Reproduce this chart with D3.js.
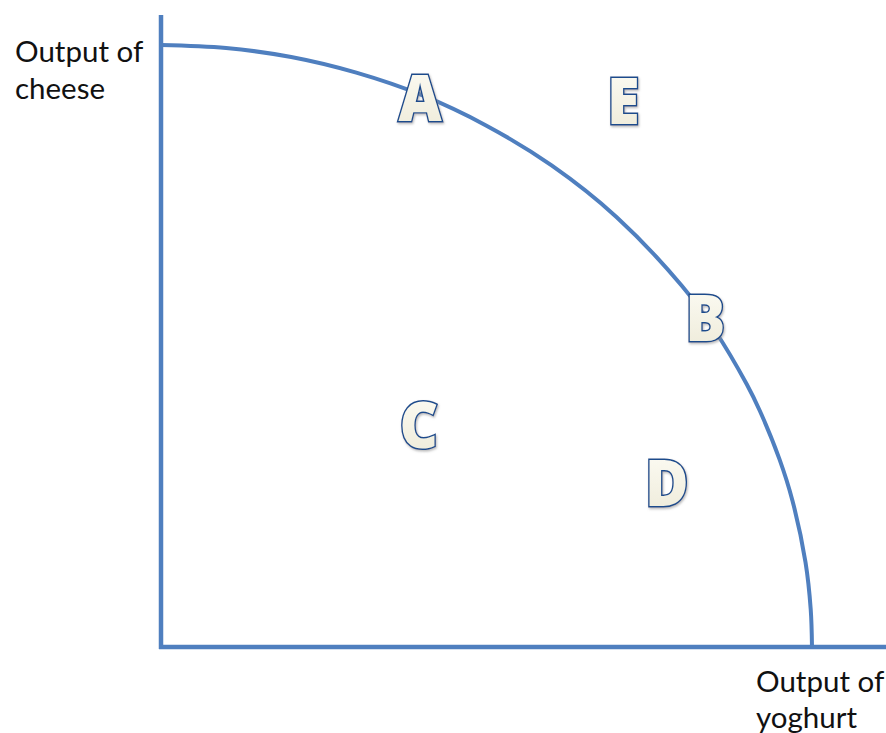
<!DOCTYPE html>
<html>
<head>
<meta charset="utf-8">
<script src="https://cdn.jsdelivr.net/npm/d3@7/dist/d3.min.js"></script>
<style>
  body { margin: 0; background: #fff; }
  svg { display: block; }
  .label { font-family: Lato, "Open Sans", sans-serif; font-size: 29.5px; fill: #111; }
  .point { font-family: "Open Sans", sans-serif; font-weight: 800; font-size: 64px;
           fill: url(#letterFill); stroke: #1f4c8c; stroke-width: 3px; paint-order: stroke; }
</style>
</head>
<body>
<div id="chart"></div>
<script>
// PPF curve (output of yoghurt, output of cheese)
const yoghurt = [0, 10, 20, 30, 40, 50, 60, 70, 80, 85, 90, 92, 95, 97, 99, 99.8, 100];
const cheese  = [100, 99.5, 98, 95.4, 91.7, 86.6, 80, 71.4, 60, 52.7, 43.6, 39.2, 31.2, 24.3, 14.1, 6.3, 0];

// labelled combinations
const pointNames = ["A", "E", "B", "C", "D"];
const pointX = [39.8, 71.0, 83.6, 39.6, 77.7];
const pointY = [91.2, 90.7, 54.7, 36.9, 27.2];

// how far the axis lines run
const xAxisEnd = 111.4;
const yAxisEnd = 105;

const axisTitles = {
  y: ["Output of", "cheese"],
  x: ["Output of", "yoghurt"]
};

const W = 886, H = 733;

const svg = d3.select("#chart").append("svg")
    .attr("width", W)
    .attr("height", H);

const defs = svg.append("defs");
const grad = defs.append("linearGradient")
    .attr("id", "letterFill")
    .attr("x1", 0).attr("y1", 0).attr("x2", 0).attr("y2", 1);
grad.append("stop").attr("offset", "0%").attr("stop-color", "#fffef8");
grad.append("stop").attr("offset", "100%").attr("stop-color", "#ece9d6");

const shadow = defs.append("filter").attr("id", "glow")
    .attr("x", "-20%").attr("y", "-20%").attr("width", "140%").attr("height", "140%");
shadow.append("feDropShadow")
    .attr("dx", 1).attr("dy", 1.5).attr("stdDeviation", 1.2)
    .attr("flood-color", "#8a8a8a").attr("flood-opacity", 0.6);

const x = d3.scaleLinear().domain([0, 100]).range([161, 812]);
const y = d3.scaleLinear().domain([0, 100]).range([647, 45]);

const blue = "#4f7fbf";

// axes
svg.append("line")
    .attr("x1", x(0)).attr("x2", x(0))
    .attr("y1", y(yAxisEnd)).attr("y2", y(0) + 2)
    .attr("stroke", blue).attr("stroke-width", 4.5);

svg.append("line")
    .attr("x1", x(0) - 2).attr("x2", x(xAxisEnd))
    .attr("y1", y(0)).attr("y2", y(0))
    .attr("stroke", blue).attr("stroke-width", 4.5);

// frontier
const curveData = yoghurt.map((v, i) => [v, cheese[i]]);
const line = d3.line()
    .x(d => x(d[0]))
    .y(d => y(d[1]))
    .curve(d3.curveCatmullRom.alpha(0.5));

svg.append("path")
    .datum(curveData)
    .attr("fill", "none")
    .attr("stroke", blue)
    .attr("stroke-width", 4)
    .attr("d", line);

// letters, squeezed a little to get the narrow look of the original face
svg.selectAll(".point")
    .data(pointNames)
  .enter().append("text")
    .attr("class", "point")
    .attr("filter", "url(#glow)")
    .attr("text-anchor", "middle")
    .attr("transform", (d, i) => `translate(${x(pointX[i])},${y(pointY[i])}) scale(0.93,1)`)
    .attr("dy", "0.36em")
    .text(d => d);

// axis titles
const yTitle = svg.append("text").attr("class", "label").attr("x", 15).attr("y", 62);
yTitle.selectAll("tspan").data(axisTitles.y)
  .enter().append("tspan")
    .attr("x", 15)
    .attr("dy", (d, i) => i ? 37 : 0)
    .text(d => d);

const xTitle = svg.append("text").attr("class", "label").attr("x", 756).attr("y", 692);
xTitle.selectAll("tspan").data(axisTitles.x)
  .enter().append("tspan")
    .attr("x", 756)
    .attr("dy", (d, i) => i ? 36 : 0)
    .text(d => d);
</script>
</body>
</html>
